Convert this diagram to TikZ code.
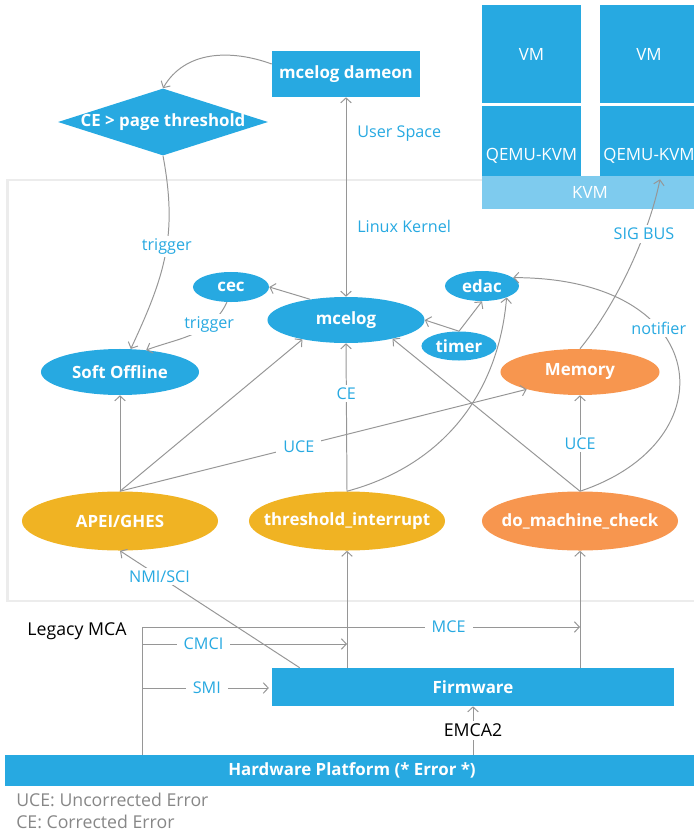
\documentclass[tikz,border=0pt]{standalone}
\usepackage{fontspec}
\setmainfont{Open Sans}
\usepackage{tikz}
\usetikzlibrary{calc,shapes.geometric,arrows.meta}
\definecolor{iblue}{RGB}{39,169,225}
\definecolor{kvmblue}{RGB}{126,203,238}
\definecolor{iyellow}{RGB}{240,179,35}
\definecolor{iorange}{RGB}{247,150,79}
\definecolor{wiregrey}{RGB}{150,150,150}
\definecolor{framegrey}{RGB}{236,236,236}
\definecolor{notegrey}{RGB}{135,135,135}

\begin{document}
\begin{tikzpicture}[x=0.025cm, y=0.025cm, font=\fontsize{11.5}{14}\selectfont,
          wire/.style={draw=wiregrey, line width=0.7pt},
          arr/.style={wire, -{Straight Barb[length=3.5pt,width=7.5pt]}},
          twoway/.style={wire, {Straight Barb[length=3.5pt,width=7.5pt]}-{Straight Barb[length=3.5pt,width=7.5pt]}},
          tag/.style={fill=white, text=iblue, inner xsep=5pt, inner ysep=2pt},
          oval/.style={ellipse, fill=#1, text=white, font=\fontsize{12}{14}\selectfont\bfseries, inner xsep=-16pt, inner ysep=0pt},
          block/.style={rectangle, fill=#1, text=white, font=\fontsize{12}{14}\selectfont\bfseries, inner sep=0pt},
          vmtext/.style={text=white, inner sep=0pt, font=\fontsize{12}{14}\selectfont},
          note/.style={inner sep=0pt, font=\fontsize{12.6}{15}\selectfont}]
         \useasboundingbox (0,0) rectangle (694,-834);
         \draw[framegrey, line width=1.6pt] (7.5,-180) rectangle (720,-601);
         \node[block=iblue, minimum width=3.7cm, minimum height=1.15cm] (daemon) at (346,-74) {mcelog dameon};
         \node[diamond, fill=iblue, text=white, font=\fontsize{12}{14}\selectfont\bfseries, inner sep=-3pt, shape aspect=3.2, minimum width=5.25cm, minimum height=1.675cm] (pagechk) at (163,-122) {CE > page threshold};
         \node[block=iblue, minimum width=2.475cm, minimum height=2.45cm] (vma) at (531.5,-54) {};
         \node[block=iblue, minimum width=2.45cm, minimum height=2.45cm] (vmb) at (649,-54) {};
         \node[block=iblue, minimum width=2.475cm, minimum height=1.75cm] (qemua) at (531.5,-141) {};
         \node[block=iblue, minimum width=2.45cm, minimum height=1.75cm] (qemub) at (649,-141) {};
         \node[block=kvmblue, minimum width=5.4cm, minimum height=0.825cm] (kvm) at (590,-192.5) {};
         \node[vmtext] (vmatext) at (vma) {VM};
         \node[vmtext] (vmbtext) at (vmb) {VM};
         \node[vmtext] (qemuatext) at (531.5,-156) {QEMU-KVM};
         \node[vmtext] (qemubtext) at (649,-156) {QEMU-KVM};
         \node[vmtext] (kvmtext) at (kvm) {KVM};
         \node[anchor=west, text=iblue, inner sep=0pt] (userspace) at (357,-134) {User Space};
         \node[anchor=west, text=iblue, inner sep=0pt] (kernel) at (357,-226) {Linux Kernel};
         \node[oval=iblue, minimum width=1.9cm, minimum height=0.75cm] (cec) at (231,-287) {cec};
         \node[oval=iblue, minimum width=3.925cm, minimum height=1.15cm] (mcelog) at (346,-320) {mcelog};
         \node[oval=iblue, minimum width=1.85cm, minimum height=0.75cm] (edac) at (482,-286) {edac};
         \node[oval=iblue, minimum width=1.875cm, minimum height=0.725cm] (timer) at (459,-346) {timer};
         \node[oval=iblue, minimum width=3.95cm, minimum height=1.15cm] (soft) at (120,-372) {Soft Offline};
         \node[oval=iorange, minimum width=3.975cm, minimum height=1.15cm] (memory) at (580,-372) {Memory};
         \node[oval=iyellow, minimum width=4.9cm, minimum height=1.475cm] (apei) at (120,-521) {APEI/GHES};
         \node[oval=iyellow, minimum width=4.9cm, minimum height=1.475cm] (thr) at (347,-521) {threshold\_interrupt};
         \node[oval=iorange, minimum width=4.9cm, minimum height=1.475cm] (dmc) at (580,-521) {do\_machine\_check};
         \node[block=iblue, minimum width=10.05cm, minimum height=0.95cm] (fw) at (473,-687) {Firmware};
         \node[block=iblue, minimum width=17.35cm, minimum height=0.775cm] (hw) at (352,-770.5) {Hardware Platform (* Error *)};
         \node[note] (legacy) at (77,-631) {Legacy MCA};
         \node[note, anchor=west, text=notegrey] (uce) at (16,-800) {UCE: Uncorrected Error};
         \node[note, anchor=west, text=notegrey] (ce) at (16,-822) {CE: Corrected Error};
         \coordinate (mca) at (142,-627);
         \coordinate (cmci) at (142,-644);
         \coordinate (smi) at (142,-688);
         \draw[arr] ($(daemon.west)+(0,10)$) to[out=160,in=60] (pagechk.north);
         \draw[twoway] (daemon.south) -- (mcelog.north);
         \draw[arr] (pagechk.south) .. controls +(15,-80) and +(34,73) .. node[tag, pos=0.45]{trigger} (soft.65);
         \draw[arr] (cec.255) to[out=-115,in=20] node[tag, pos=0.3]{trigger} (soft.40);
         \draw[arr] (mcelog.150) -- (cec.east);
         \draw[arr] (timer.north) -- (mcelog.east);
         \draw[arr] (timer.north) -- (edac.south);
         \draw[arr] (apei.north) -- (soft.south);
         \draw[arr] (apei.north) -- (mcelog.204);
         \draw[arr] (apei.north) -- node[tag, pos=0.44]{UCE} (memory.198);
         \draw[arr] (thr.north) -- node[tag, pos=0.66]{CE} (mcelog.south);
         \draw[arr] (thr.north) to[out=15,in=-95] (edac.-25);
         \draw[arr] (dmc.north) -- node[tag]{UCE} (memory.south);
         \draw[arr] (dmc.north) -- (mcelog.-22);
         \draw[arr] (dmc.north) .. controls +(150,50) and +(200,0) .. node[tag, pos=0.64]{notifier} (edac.15);
         \draw[arr] (memory.north) .. controls +(40,49) and +(-10,-50) .. node[tag, pos=0.67]{SIG BUS} ($(qemub.south)+(11,-3)$);
         \draw[arr] ($(fw.north west)+(28,0)$) -- node[tag, pos=0.78]{NMI/SCI} (apei.south);
         \draw[arr] (fw.north -| thr.south) -- (thr.south);
         \draw[arr] (fw.north -| dmc.south) -- (dmc.south);
         \draw[arr] (hw.north -| mca) -- (mca) -- node[tag, pos=0.7]{MCE} (mca -| dmc.south);
         \draw[arr] (cmci) -- node[tag, pos=0.3]{CMCI} (cmci -| thr.south);
         \draw[arr, shorten >=2pt] (smi) -- node[tag]{SMI} (smi -| fw.west);
         \draw[arr] (hw.north -| fw.south) -- node[tag, text=black, font=\fontsize{12.6}{15}\selectfont]{EMCA2} (fw.south);
      \end{tikzpicture}
\end{document}
